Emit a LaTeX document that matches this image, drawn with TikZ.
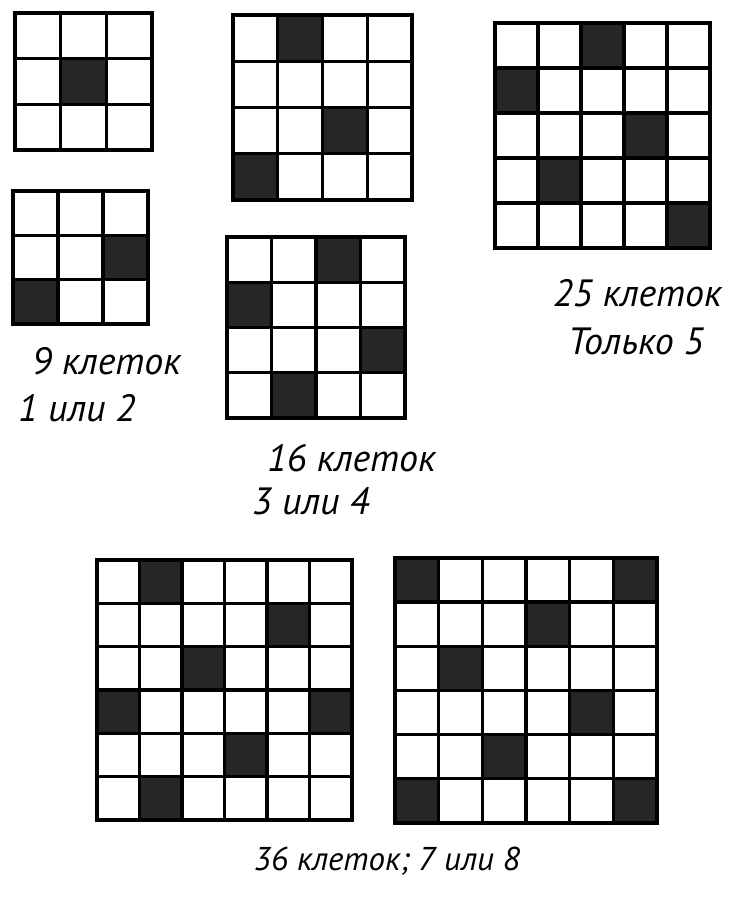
\documentclass[tikz,border=0pt]{standalone}
\usepackage{fontspec}
\newfontfamily\capfont{PT Sans}
\usepackage{tikz}
\usetikzlibrary{positioning}

\begin{document}
\begin{tikzpicture}[x=1pt, y=1pt,
  cellgrid/.style={line width=3.3pt, step=1},
  outerframe/.style={line width=4.4pt},
  marked/.style={fill=black!85},
  cellcap/.style={font=\capfont\itshape\fontsize{38}{42}\selectfont, anchor=base west, inner sep=0pt}
]
\useasboundingbox (0,0) rectangle (729,897);

% 9 cells, centre marked
\begin{scope}[shift={(15,747)}, xscale=45.67, yscale=45.67]
  \fill[marked] (1,1) rectangle ++(1,1);
  \draw[cellgrid] (0,0) grid (3,3);
  \draw[outerframe] (0,0) rectangle (3,3);
\end{scope}

% 9 cells, two marked
\begin{scope}[shift={(13,573)}, xscale=45, yscale=44.33]
  \foreach \c/\r in {2/1, 0/0}
    \fill[marked] (\c,\r) rectangle ++(1,1);
  \draw[cellgrid] (0,0) grid (3,3);
  \draw[outerframe] (0,0) rectangle (3,3);
\end{scope}

% 16 cells, three marked
\begin{scope}[shift={(233,697)}, xscale=44.75, yscale=46.25]
  \foreach \c/\r in {1/3, 2/1, 0/0}
    \fill[marked] (\c,\r) rectangle ++(1,1);
  \draw[cellgrid] (0,0) grid (4,4);
  \draw[outerframe] (0,0) rectangle (4,4);
\end{scope}

% 16 cells, four marked
\begin{scope}[shift={(227,479)}, xscale=44.5, yscale=45.25]
  \foreach \c/\r in {2/3, 0/2, 3/1, 1/0}
    \fill[marked] (\c,\r) rectangle ++(1,1);
  \draw[cellgrid] (0,0) grid (4,4);
  \draw[outerframe] (0,0) rectangle (4,4);
\end{scope}

% 25 cells, five marked
\begin{scope}[shift={(495,649)}, xscale=43, yscale=45]
  \foreach \c/\r in {2/4, 0/3, 3/2, 1/1, 4/0}
    \fill[marked] (\c,\r) rectangle ++(1,1);
  \draw[cellgrid] (0,0) grid (5,5);
  \draw[outerframe] (0,0) rectangle (5,5);
\end{scope}

% 36 cells, seven marked
\begin{scope}[shift={(97,77)}, xscale=42.5, yscale=43.33]
  \foreach \c/\r in {1/5, 4/4, 2/3, 0/2, 5/2, 3/1, 1/0}
    \fill[marked] (\c,\r) rectangle ++(1,1);
  \draw[cellgrid] (0,0) grid (6,6);
  \draw[outerframe] (0,0) rectangle (6,6);
\end{scope}

% 36 cells, eight marked
\begin{scope}[shift={(395,74)}, xscale=43.67, yscale=44.17]
  \foreach \c/\r in {0/5, 5/5, 3/4, 1/3, 4/2, 2/1, 0/0, 5/0}
    \fill[marked] (\c,\r) rectangle ++(1,1);
  \draw[cellgrid] (0,0) grid (6,6);
  \draw[outerframe] (0,0) rectangle (6,6);
\end{scope}

% Captions
\node[cellcap] (cap9) at (32,522) {9 клеток};
\node[cellcap] (cap9b) at (18,475) {1 или 2};
\node[cellcap] (cap16) at (267,425) {16 клеток};
\node[cellcap] (cap16b) at (252,382) {3 или 4};
\node[cellcap] (cap25) at (553,590) {25 клеток};
\node[cellcap] (cap25b) at (568,542) {Только 5};
\node[cellcap, anchor=base, font=\capfont\itshape\fontsize{33}{38}\selectfont] (cap36) at (387,27) {36 клеток; 7 или 8};

\end{tikzpicture}
\end{document}
